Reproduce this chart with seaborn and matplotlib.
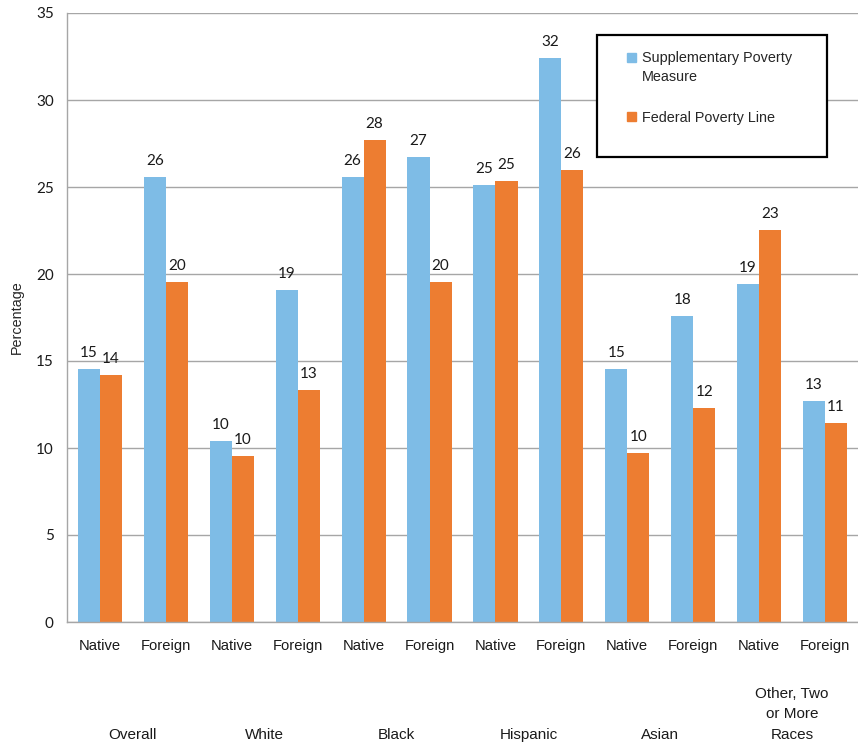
import matplotlib
matplotlib.use('Agg')

import matplotlib.patches as mpatches
import matplotlib.pyplot as plt
import matplotlib.transforms as mtransforms
import numpy as np
import pandas as pd
import seaborn as sns
from matplotlib.legend_handler import HandlerPatch


# ─── Data ─────────────────────────────────────────────────────────────────────

groups = ['Overall', 'White', 'Black', 'Hispanic', 'Asian', 'Other, Two\nor More\nRaces']
nativity = ['Native', 'Foreign']
measures = ['Supplementary Poverty\nMeasure', 'Federal Poverty Line']

spm_pct = [14.55, 25.6, 10.4, 19.1, 25.55, 26.75, 25.1, 32.4, 14.55, 17.6, 19.45, 12.7]
fpl_pct = [14.2, 19.55, 9.55, 13.35, 27.7, 19.52, 25.35, 26.0, 9.7, 12.3, 22.55, 11.45]

y_ticks = [0, 5, 10, 15, 20, 25, 30, 35]

BLUE = '#7EBCE6'
ORANGE = '#ED7D31'
GRID = '#A6A6A6'
TEXT_FONT = 'Liberation Sans'
NUM_FONT = 'Lato'


def raised_square(legend, orig_handle, xdescent, ydescent, width, height, fontsize):
    # two-line label: keep the swatch beside the first line, like Excel does
    return mpatches.Rectangle((-xdescent, -ydescent + 0.69 * fontsize), width, height)


def main():
    sns.set_style('white')

    categories = [f'{g} {n}' for g in groups for n in nativity]
    df = pd.DataFrame({
        'category': categories * 2,
        'measure': [measures[0]] * len(categories) + [measures[1]] * len(categories),
        'value': spm_pct + fpl_pct,
    })

    fig = plt.figure(figsize=(8.58, 7.43), dpi=100)
    ax = fig.add_axes([67 / 858, 1 - 622 / 743, (858 - 67) / 858, (622 - 13) / 743])

    sns.barplot(
        data=df, x='category', y='value', hue='measure',
        order=categories, hue_order=measures,
        palette=[BLUE, ORANGE], saturation=1, width=0.67,
        linewidth=0, legend=False, ax=ax,
    )

    for container in ax.containers:
        ax.bar_label(container, fmt='%.0f', padding=6.5,
                     fontsize=11, family=NUM_FONT, color='#1a1a1a')

    # axes styling
    ax.set_ylim(0, 35)
    ax.set_xlim(-0.5, len(categories) - 0.5)
    ax.set_yticks(y_ticks)
    ax.set_yticklabels([str(t) for t in y_ticks], family=NUM_FONT, fontsize=11)
    ax.yaxis.grid(True, color=GRID, linewidth=1)
    ax.set_axisbelow(True)
    for side in ['top', 'right']:
        ax.spines[side].set_visible(False)
    for side in ['left', 'bottom']:
        ax.spines[side].set_color(GRID)
        ax.spines[side].set_linewidth(1)
    ax.tick_params(axis='y', length=4.5, color=GRID, pad=5, labelcolor='#1a1a1a')

    ax.set_xticks(range(len(categories)))
    ax.set_xticklabels(nativity * len(groups), family=TEXT_FONT, fontsize=10.6)
    ax.set_xticks(np.arange(-0.5, len(categories), 1), minor=True)
    ax.tick_params(axis='x', which='major', length=0, pad=12, labelcolor='#1a1a1a')
    ax.tick_params(axis='x', which='minor', length=4, color=GRID)

    ax.set_xlabel('')
    ax.set_ylabel('Percentage', family=TEXT_FONT, fontsize=10.4, labelpad=9)

    # group labels under each Native/Foreign pair
    trans = mtransforms.blended_transform_factory(ax.transData, fig.transFigure)
    for i, g in enumerate(groups):
        ax.text(2 * i + 0.5, 0.002, g, transform=trans, ha='center', va='bottom',
                family=TEXT_FONT, fontsize=11, linespacing=1.56, color='#1a1a1a')

    # legend in a framed box at the upper right
    frame = mpatches.Rectangle(
        ((597 - 67) / 791, (622 - 157) / 609), 230 / 791, 122 / 609,
        transform=ax.transAxes, facecolor='white', edgecolor='black',
        linewidth=1.6, zorder=3, clip_on=False,
    )
    ax.add_patch(frame)

    handles = [mpatches.Patch(color=BLUE), mpatches.Patch(color=ORANGE)]
    leg = ax.legend(
        handles, measures, loc='upper left',
        bbox_to_anchor=((627 - 67) / 791, (622 - 51) / 609),
        frameon=False, borderpad=0, borderaxespad=0,
        handlelength=0.6, handleheight=0.6, handletextpad=0.45,
        labelspacing=1.9, prop={'family': TEXT_FONT, 'size': 10.4},
        handler_map={handles[0]: HandlerPatch(patch_func=raised_square)},
    )
    for t in leg.get_texts():
        t.set_linespacing(1.41)
    leg.set_zorder(4)

    plt.savefig('out.png', dpi=100)


if __name__ == '__main__':
    main()
